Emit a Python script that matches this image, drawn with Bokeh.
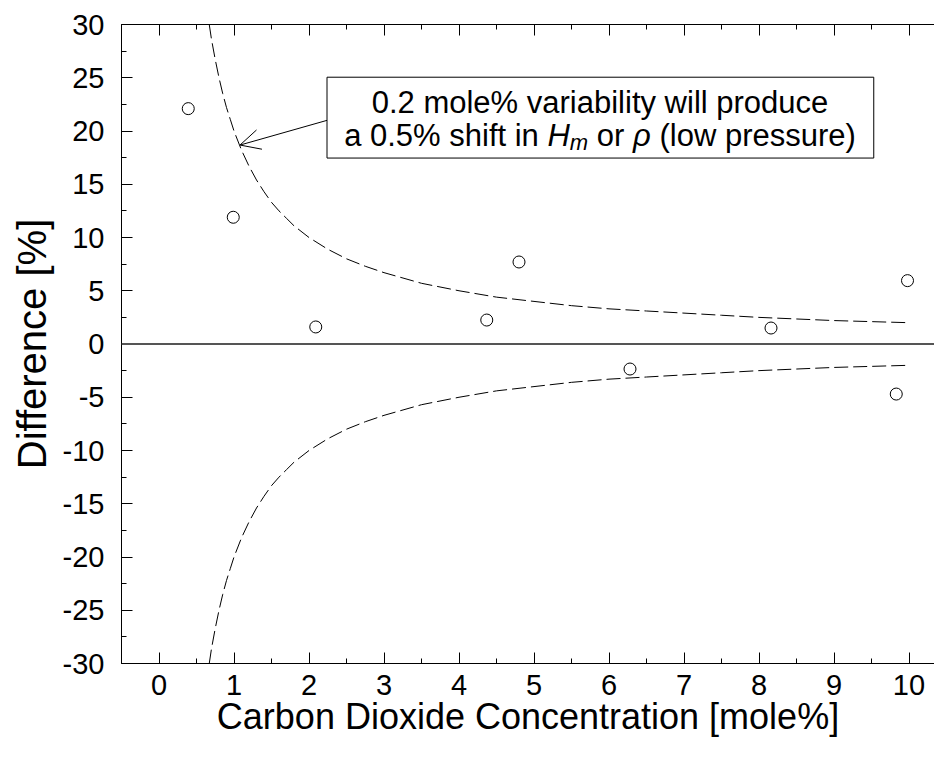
from bokeh.plotting import figure
from bokeh.models import (LinearAxis, SingleIntervalTicker, Range1d, Span, BoxAnnotation,
                          Arrow, OpenHead, Label, NumeralTickFormatter, CustomJSTickFormatter)
from bokeh.embed import file_html
from bokeh.resources import INLINE

# measured points
co2 = [0.39, 0.99, 2.09, 4.37, 4.8, 6.28, 8.16, 9.83, 9.98]
diff = [22.1, 11.9, 1.6, 2.25, 7.7, -2.35, 1.5, -4.7, 5.95]

# dashed bound curves
curve_x = [0.67, 0.7, 0.75, 0.8, 0.85, 0.9, 0.95, 1.0, 1.1, 1.2, 1.3, 1.4, 1.5, 1.6, 1.7, 1.8,
           2.0, 2.25, 2.5, 2.75, 3.0, 3.5, 4.0, 4.5, 5.0, 5.5, 6.0, 6.5, 7.0, 7.5, 8.0, 8.5,
           9.0, 9.5, 10.0]
curve_upper = [30.0, 28.6, 26.7, 25.0, 23.5, 22.2, 21.1, 20.0, 18.2, 16.7, 15.4, 14.3, 13.3,
               12.5, 11.8, 11.1, 10.0, 8.9, 8.0, 7.3, 6.7, 5.7, 5.0, 4.4, 4.0, 3.6, 3.3, 3.1,
               2.9, 2.7, 2.5, 2.35, 2.2, 2.1, 2.0]
curve_lower = [-30.0, -28.6, -26.7, -25.0, -23.5, -22.2, -21.1, -20.0, -18.2, -16.7, -15.4,
               -14.3, -13.3, -12.5, -11.8, -11.1, -10.0, -8.9, -8.0, -7.3, -6.7, -5.7, -5.0,
               -4.4, -4.0, -3.6, -3.3, -3.1, -2.9, -2.7, -2.5, -2.35, -2.2, -2.1, -2.0]

FONT = "Liberation Sans"

p = figure(width=934, height=763, x_range=Range1d(-0.5, 10.34), y_range=Range1d(-30, 30),
           output_backend="svg", toolbar_location=None,
           min_border_left=121, min_border_right=0, min_border_top=24, min_border_bottom=100)
p.outline_line_color = None
p.grid.grid_line_color = None
p.background_fill_color = "white"
p.border_fill_color = "white"

xt = SingleIntervalTicker(interval=1, num_minor_ticks=2)
yt = SingleIntervalTicker(interval=5, num_minor_ticks=2)

def style_axis(ax):
    ax.axis_line_color = "black"
    ax.axis_line_width = 1
    ax.major_tick_in = 11
    ax.major_tick_out = 0
    ax.minor_tick_in = 5
    ax.minor_tick_out = 0
    ax.major_tick_line_color = "black"
    ax.minor_tick_line_color = "black"
    ax.major_label_text_font = FONT
    ax.major_label_text_color = "black"
    ax.axis_label_text_font = FONT
    ax.axis_label_text_font_style = "normal"
    ax.axis_label_text_color = "black"

xa = p.xaxis[0]
xa.ticker = xt
style_axis(xa)
xa.major_label_text_font_size = "29px"
xa.major_label_standoff = 11
xa.axis_label = "Carbon Dioxide Concentration [mole%]"
xa.axis_label_text_font_size = "36px"
xa.axis_label_standoff = -2

ya = p.yaxis[0]
ya.ticker = yt
style_axis(ya)
ya.formatter = NumeralTickFormatter(format="0")
ya.major_label_text_font_size = "29px"
ya.major_label_standoff = 17
ya.axis_label = "Difference [%]"
ya.axis_label_text_font_size = "40px"
ya.axis_label_standoff = 6

top = LinearAxis(ticker=xt, formatter=CustomJSTickFormatter(code="return ''"))
style_axis(top)
top.major_label_text_font_size = "1px"
top.major_label_standoff = 0
p.add_layout(top, "above")

p.add_layout(Span(location=0, dimension="width", line_color="#555555", line_width=2))

p.line(curve_x, curve_upper, line_color="black", line_width=1, line_dash="14 5")
p.line(curve_x, curve_lower, line_color="black", line_width=1, line_dash="14 5")

p.scatter(co2, diff, marker="circle", size=12, fill_color=None, line_color="black", line_width=1)

# annotation box
p.add_layout(BoxAnnotation(left=2.24, right=9.53, top=25.05, bottom=17.46,
                           fill_color="white", fill_alpha=1.0, line_color="black",
                           line_width=1, line_alpha=1.0))
p.add_layout(Arrow(end=OpenHead(size=20, line_width=1, line_color="black"),
                   x_start=2.24, y_start=21.0, x_end=1.08, y_end=18.68,
                   line_color="black", line_width=1))

FS = 31
cx = 5.88
p.add_layout(Label(x=cx, y=22.7, text="0.2 mole% variability will produce",
                   text_align="center", text_baseline="alphabetic",
                   text_font=FONT, text_font_size=f"{FS}px", text_color="black"))

# second line composed of pieces (em widths, Arial metrics)
SUB = 22
w_a = 6.559 * FS
w_H = 0.722 * FS
w_m = 0.833 * SUB
w_sp = 0.278 * FS
w_or = 0.889 * FS
w_rho = 0.578 * FS
w_rest = 6.334 * FS
total = w_a + w_H + w_m + w_sp + w_or + w_sp + w_rho + w_sp + w_rest
x0 = -total / 2
pieces = [
    ("a 0.5% shift in", x0, 0, FS, "normal"),
    ("H", x0 + w_a, 0, FS, "italic"),
    ("m", x0 + w_a + w_H, -7, SUB, "italic"),
    ("or", x0 + w_a + w_H + w_m + w_sp, 0, FS, "normal"),
    ("ρ", x0 + w_a + w_H + w_m + w_sp + w_or + w_sp, 0, FS, "italic"),
    ("(low pressure)", x0 + w_a + w_H + w_m + w_sp + w_or + w_sp + w_rho + w_sp, 0, FS, "normal"),
]
for txt, xo, yo, fs, st in pieces:
    p.add_layout(Label(x=cx, y=19.6, x_offset=xo, y_offset=yo, text=txt,
                       text_align="left", text_baseline="alphabetic",
                       text_font=FONT, text_font_size=f"{fs}px", text_font_style=st,
                       text_color="black"))

open("out.html", "w").write(file_html(p, INLINE))
